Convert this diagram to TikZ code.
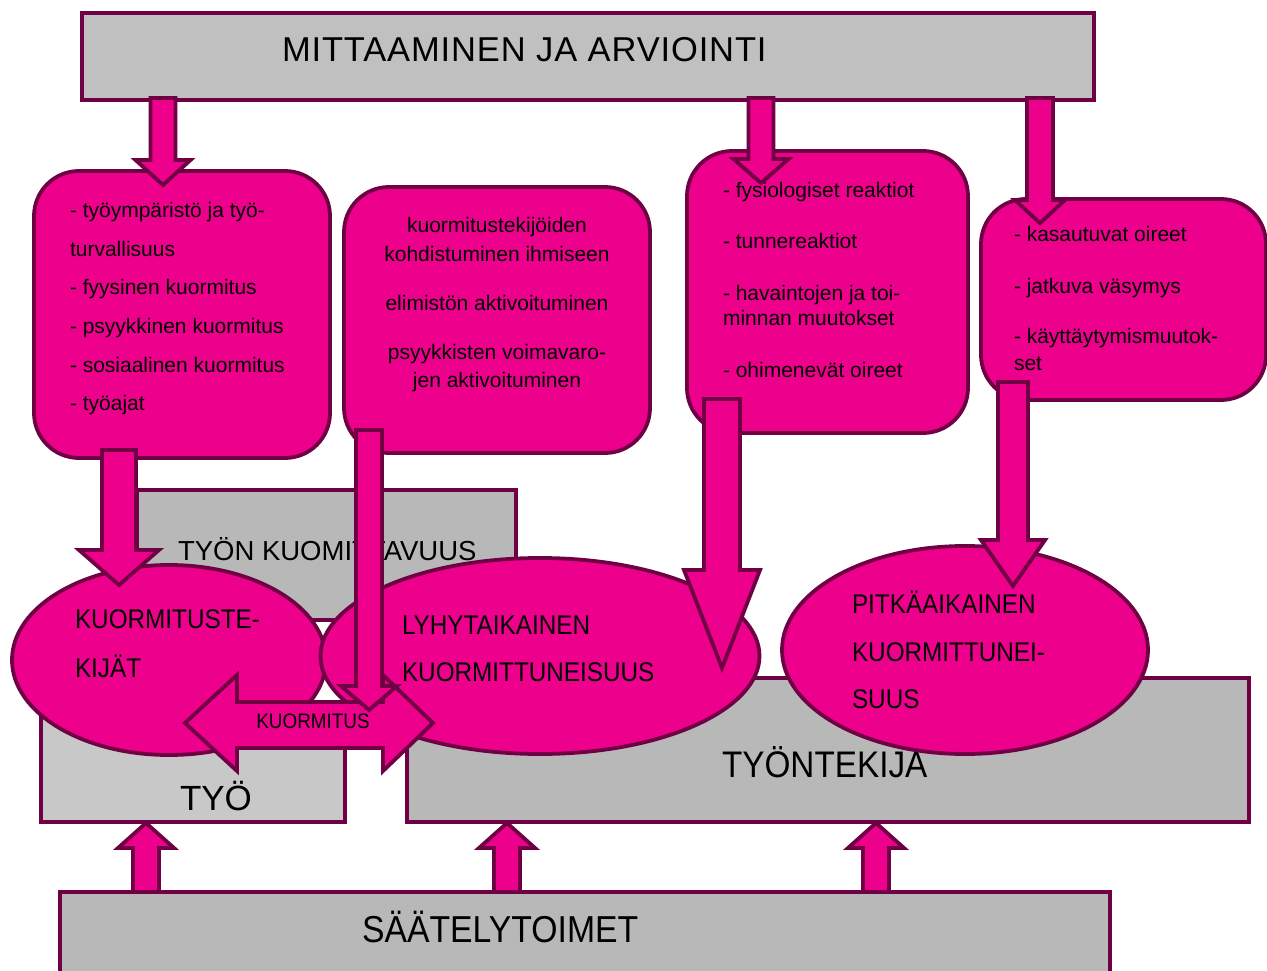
\documentclass[tikz,border=0pt]{standalone}
\usepackage{fontspec}
\setmainfont{Liberation Sans}
\newfontfamily\nf[FakeStretch=0.9]{Liberation Sans}
\newfontfamily\tf[LetterSpace=2.5]{Liberation Sans}
\usetikzlibrary{shapes.geometric}
\definecolor{pk}{RGB}{236,0,140}
\definecolor{bd}{RGB}{112,0,68}
\definecolor{ga}{RGB}{192,192,192}
\definecolor{gb}{RGB}{184,184,184}
\definecolor{gc}{RGB}{200,200,200}
\newcommand\dnarrow[6]{\draw[barrow] ({#1-#5},#2) -- ({#1+#5},#2) -- ({#1+#5},#3) -- ({#1+#6},#3) -- (#1,#4) -- ({#1-#6},#3) -- ({#1-#5},#3) -- cycle;}
\begin{document}
\begin{tikzpicture}[x=1pt,y=-1pt,
  every node/.style={inner sep=0pt, outer sep=0pt},
  frame/.style={draw=bd, line width=3.8pt},
  gbox/.style={frame, rectangle},
  rbox/.style={frame, fill=pk, rectangle, rounded corners=45pt},
  ell/.style={frame, fill=pk, ellipse},
  barrow/.style={frame, fill=pk, line join=miter},
  small/.style={font=\fontsize{21}{25}\selectfont},
  capell/.style={font=\nf\fontsize{27}{30}\selectfont},
]
\useasboundingbox (0,0) rectangle (1267,971);

% top box
\node[gbox, fill=ga, minimum width=1012pt, minimum height=87pt] (meas) at (588,56.5) {};
\node[anchor=base west, font=\tf\fontsize{34.5}{40}\selectfont] (meast) at (282,62) {MITTAAMINEN JA ARVIOINTI};

% rounded boxes
\node[rbox, minimum width=296pt, minimum height=287pt] (b1) at (182,314.5) {};
\node[rbox, minimum width=306pt, minimum height=266pt] (b2) at (497,320) {};
\node[rbox, minimum width=281pt, minimum height=282pt] (b3) at (827.5,292) {};
\node[rbox, minimum width=285pt, minimum height=201pt] (b4) at (1123.5,299.5) {};

\foreach \y/\t [count=\i] in {217/- työympäristö ja työ-, 256/turvallisuus, 294/- fyysinen kuormitus, 333/- psyykkinen kuormitus, 372/- sosiaalinen kuormitus, 410/- työajat}
  \node[small, anchor=base west] (b1l\i) at (70,\y) {\t};
\foreach \y/\t [count=\i] in {233/kuormitustekijöiden, 261/kohdistuminen ihmiseen, 310/elimistön aktivoituminen, 359/psyykkisten voimavaro-, 387/jen aktivoituminen}
  \node[small, anchor=base] (b2l\i) at (497,\y) {\t};
\foreach \y/\t [count=\i] in {197/- fysiologiset reaktiot, 248/- tunnereaktiot, 300/- havaintojen ja toi-, 325/minnan muutokset, 377/- ohimenevät oireet}
  \node[small, anchor=base west] (b3l\i) at (723,\y) {\t};
\foreach \y/\t [count=\i] in {241/- kasautuvat oireet, 293/- jatkuva väsymys, 343/- käyttäytymismuutok-, 370/set}
  \node[small, anchor=base west] (b4l\i) at (1014,\y) {\t};

% arrows from top box
\dnarrow{163}{98}{160}{185}{12.5}{27.5}
\dnarrow{761}{98}{159}{183}{12.5}{27.5}
\dnarrow{1040}{98}{200}{223}{13}{25}

% gray rectangles
\node[gbox, fill=gb, minimum width=379pt, minimum height=130pt] (kt) at (326.5,555) {};
\node[anchor=base west, font=\fontsize{27.5}{32}\selectfont] (ktt) at (178,560) {TYÖN KUOMITTAVUUS};
\node[gbox, fill=gc, minimum width=304pt, minimum height=117pt] (tyo) at (193,763.5) {};
\node[anchor=base west, font=\fontsize{35}{40}\selectfont] (tyot) at (180,810) {TYÖ};
\node[gbox, fill=gb, minimum width=842pt, minimum height=144pt] (tt) at (828,750) {};
\node[anchor=base west, font=\nf\fontsize{37}{42}\selectfont] (ttt) at (722,777) {TYÖNTEKIJÄ};
\node[gbox, fill=gb, minimum width=1050pt, minimum height=110pt] (saat) at (585,947) {};
\node[anchor=base west, font=\nf\fontsize{37.5}{42}\selectfont] (saatt) at (362,942) {SÄÄTELYTOIMET};

% ellipses
\node[ell, minimum width=314pt, minimum height=190pt] (e1) at (169,660) {};
\node[capell, anchor=base west] (e1a) at (75,628) {KUORMITUSTE-};
\node[capell, anchor=base west] (e1b) at (75,677) {KIJÄT};
\node[ell, minimum width=439pt, minimum height=196pt] (e2) at (540,656) {};
\node[capell, anchor=base west] (e2a) at (402,634) {LYHYTAIKAINEN};
\node[capell, anchor=base west] (e2b) at (402,681) {KUORMITTUNEISUUS};
\node[ell, minimum width=366pt, minimum height=208pt] (e3) at (965,650) {};
\node[capell, anchor=base west] (e3a) at (852,613) {PITKÄAIKAINEN};
\node[capell, anchor=base west] (e3b) at (852,661) {KUORMITTUNEI-};
\node[capell, anchor=base west] (e3c) at (852,708) {SUUS};

% arrows into ellipses
\dnarrow{119}{450}{550}{585}{17}{40}
\dnarrow{722}{399}{570}{668}{18}{38}
\dnarrow{1013}{382}{540}{586}{15}{32}

% double arrow
\draw[barrow] (185,723) -- (237,675) -- (237,702) -- (383,702) -- (383,675) -- (433,723) -- (383,771) -- (383,748) -- (237,748) -- (237,771) -- cycle;
\node[anchor=base, font=\nf\fontsize{21}{25}\selectfont] (kuorm) at (313,728) {KUORMITUS};

\dnarrow{369}{430}{686}{710}{13}{28}

% up arrows from bottom
\dnarrow{146}{892}{848}{823}{13}{28}
\dnarrow{507}{892}{848}{823}{13}{28}
\dnarrow{876}{892}{848}{823}{13}{28}
\end{tikzpicture}
\end{document}
